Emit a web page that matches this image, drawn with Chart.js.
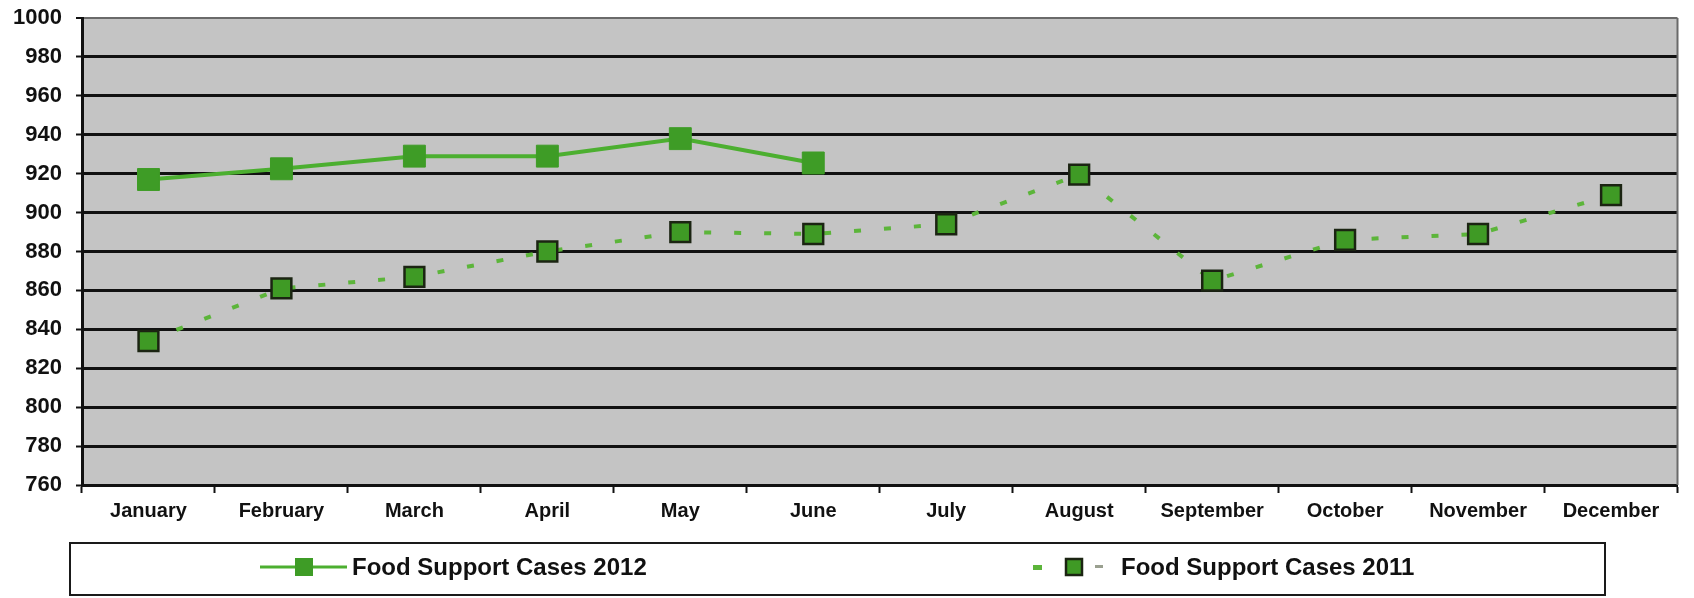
<!DOCTYPE html>
<html>
<head>
<meta charset="utf-8">
<script src="https://cdn.jsdelivr.net/npm/chart.js@4.4.1/dist/chart.umd.min.js"></script>
<style>
  html, body { margin: 0; padding: 0; background: #ffffff; }
  #wrap { width: 1694px; height: 598px; }
</style>
</head>
<body>
<div id="wrap"><canvas id="c" width="1694" height="598"></canvas></div>
<script>
// ---- data ----
const months = ['January', 'February', 'March', 'April', 'May', 'June', 'July', 'August', 'September', 'October', 'November', 'December'];
const cases2012 = [917, 922.5, 929, 929, 938, 925.5, null, null, null, null, null, null];
const cases2011 = [834, 861, 867, 880, 890, 889, 894, 919.5, 865, 886, 889, 909];
const label2012 = 'Food Support Cases 2012';
const label2011 = 'Food Support Cases 2011';
const yMin = 760;
const yMax = 1000;
const yStep = 20;

const FONT = '"Liberation Sans", Arial, sans-serif';
const INK = '#111111';

const plotBackground = {
  id: 'plotBackground',
  beforeDraw(chart) {
    const a = chart.chartArea;
    const ctx = chart.ctx;
    ctx.save();
    ctx.fillStyle = '#c4c4c4';
    ctx.fillRect(a.left, a.top, a.right - a.left, a.bottom - a.top);
    ctx.restore();
  },
  afterDraw(chart) {
    const a = chart.chartArea;
    const ctx = chart.ctx;
    ctx.save();
    ctx.strokeStyle = '#6a6a6a';
    ctx.lineWidth = 2;
    ctx.beginPath();
    ctx.moveTo(a.right, a.top);
    ctx.lineTo(a.right, a.bottom);
    ctx.stroke();
    ctx.restore();
  }
};

const boxLegend = {
  id: 'boxLegend',
  afterDraw(chart) {
    const ctx = chart.ctx;
    ctx.save();
    // box
    ctx.fillStyle = '#ffffff';
    ctx.fillRect(70, 543, 1535, 52);
    ctx.strokeStyle = '#1a1a1a';
    ctx.lineWidth = 2;
    ctx.strokeRect(70, 543, 1535, 52);
    const cy = 567;
    // item 1: solid line + square
    ctx.strokeStyle = '#4caf30';
    ctx.lineWidth = 3;
    ctx.beginPath();
    ctx.moveTo(260, cy);
    ctx.lineTo(347, cy);
    ctx.stroke();
    ctx.fillStyle = '#3e9c26';
    ctx.fillRect(295, cy - 9, 18, 18);
    ctx.fillStyle = INK;
    ctx.font = 'bold 24px ' + FONT;
    ctx.textBaseline = 'middle';
    ctx.textAlign = 'left';
    ctx.fillText(label2012, 352, cy + 1);
    // item 2: dotted line + bordered square
    ctx.fillStyle = '#5cb53a';
    ctx.fillRect(1033, cy - 2, 9, 5);
    ctx.fillStyle = '#3f9a25';
    ctx.fillRect(1066, cy - 8, 16, 16);
    ctx.strokeStyle = '#1b2412';
    ctx.lineWidth = 2.5;
    ctx.strokeRect(1066, cy - 8, 16, 16);
    ctx.fillStyle = '#9aa090';
    ctx.fillRect(1095, cy - 2, 8, 3);
    ctx.fillStyle = INK;
    ctx.fillText(label2011, 1121, cy + 1);
    ctx.restore();
  }
};

new Chart(document.getElementById('c'), {
  type: 'line',
  data: {
    labels: months,
    datasets: [
      {
        label: label2011,
        data: cases2011,
        borderColor: '#5cb53a',
        borderWidth: 4,
        borderDash: [7, 23],
        tension: 0,
        pointStyle: 'rect',
        pointRadius: 14,
        pointBackgroundColor: '#3f9a25',
        pointBorderColor: '#1b2412',
        pointBorderWidth: 2.5
      },
      {
        label: label2012,
        data: cases2012,
        borderColor: '#4caf30',
        borderWidth: 4,
        tension: 0,
        spanGaps: false,
        pointStyle: 'rect',
        pointRadius: 15.5,
        pointBackgroundColor: '#3e9c26',
        pointBorderColor: '#3e9c26',
        pointBorderWidth: 1
      }
    ]
  },
  options: {
    responsive: false,
    animation: false,
    devicePixelRatio: 1,
    layout: { padding: { left: 0, right: 6, top: 18, bottom: 69 } },
    plugins: {
      legend: { display: false },
      tooltip: { enabled: false }
    },
    scales: {
      x: {
        type: 'category',
        offset: true,
        grid: {
          offset: true,
          drawOnChartArea: false,
          drawTicks: true,
          tickLength: 8,
          tickColor: INK,
          tickWidth: 2
        },
        border: { color: INK, width: 3 },
        ticks: {
          color: INK,
          font: { family: FONT, size: 20, weight: 'bold' },
          padding: 6,
          maxRotation: 0,
          autoSkip: false
        }
      },
      y: {
        min: yMin,
        max: yMax,
        ticks: {
          stepSize: yStep,
          color: INK,
          font: { family: FONT, size: 22, weight: 'bold' },
          padding: 14,
          callback: (v) => String(v)
        },
        grid: {
          color: (c) => (c.tick && c.tick.value === yMax ? '#6a6a6a' : INK),
          lineWidth: (c) => (c.tick && c.tick.value === yMax ? 2 : 3),
          tickLength: 6,
          tickColor: INK,
          tickWidth: 2
        },
        border: { color: INK, width: 3 },
        afterFit: (s) => { s.width = 82; s.paddingTop = 0; s.paddingBottom = 0; }
      }
    }
  },
  plugins: [plotBackground, boxLegend]
});
</script>
</body>
</html>
